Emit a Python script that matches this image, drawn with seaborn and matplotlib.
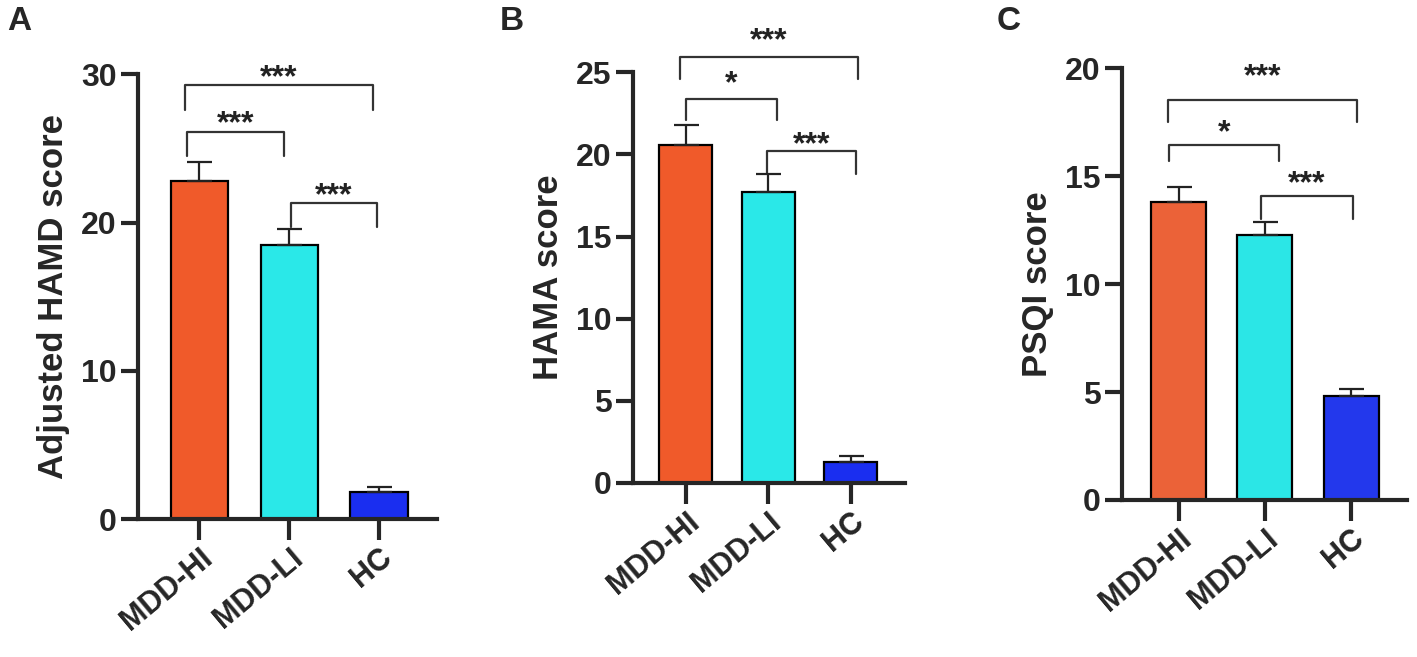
import matplotlib
matplotlib.use("Agg")
import matplotlib.pyplot as plt
import seaborn as sns
import numpy as np
import pandas as pd

groups = ['MDD-HI', 'MDD-LI', 'HC']
hamd_mean = [22.8, 18.5, 1.8]
hamd_sem = [1.3, 1.05, 0.35]
hama_mean = [20.6, 17.7, 1.3]
hama_sem = [1.2, 1.1, 0.35]
psqi_mean = [13.8, 12.3, 4.8]
psqi_sem = [0.7, 0.6, 0.33]

# significance brackets: x1, x2, bar height, leg end, label, text y
hamd_sig = [(-0.16, 1.93, 29.3, 27.6, '***', 29.75),
            (-0.14, 0.94, 26.1, 24.5, '***', 26.65),
            (1.02, 1.97, 21.3, 19.7, '***', 21.75)]
hama_sig = [(-0.07, 2.09, 25.95, 24.6, '***', 26.9),
            (0.0, 1.11, 23.4, 22.1, '*', 24.3),
            (0.98, 2.07, 20.2, 18.8, '***', 20.55)]
psqi_sig = [(-0.12, 2.07, 18.55, 17.5, '***', 19.6),
            (-0.11, 1.16, 16.45, 15.7, '*', 17.0),
            (0.96, 2.02, 14.1, 13.0, '***', 14.65)]

sns.set_style("ticks")
plt.rcParams['font.family'] = ['Liberation Sans', 'DejaVu Sans']
plt.rcParams['font.weight'] = 'bold'

palette_a = ['#F05A2A', '#2AE8E8', '#1A2EF0']
palette_c = ['#EB6238', '#2BE6E6', '#2338EC']

fig = plt.figure(figsize=(14.17, 6.57), dpi=100)
# [left, bottom, width, height] in figure fractions
boxes = [[0.0974, 0.210, 0.211, 0.677],
         [0.4467, 0.265, 0.192, 0.625],
         [0.7918, 0.239, 0.201, 0.657]]
panels = [
    ('A', hamd_mean, hamd_sem, hamd_sig, 'Adjusted HAMD score', 30, [0, 10, 20, 30], palette_a, (-0.684, 2.643)),
    ('B', hama_mean, hama_sem, hama_sig, 'HAMA score', 25, [0, 5, 10, 15, 20, 25], palette_a, (-0.64, 2.66)),
    ('C', psqi_mean, psqi_sem, psqi_sig, 'PSQI score', 20, [0, 5, 10, 15, 20], palette_c, (-0.656, 2.645)),
]
letter_x = [0.005, 0.353, 0.703]

for i, (letter, means, sems, sig, ylab, ymax, yticks, pal, xl) in enumerate(panels):
    ax = fig.add_axes(boxes[i])
    df = pd.DataFrame({'group': groups, 'score': means})
    sns.barplot(data=df, x='group', y='score', hue='group', palette=pal,
                width=0.64, edgecolor='black', linewidth=1.6, legend=False,
                errorbar=None, ax=ax, saturation=1)
    ax.errorbar(np.arange(len(groups)), means, yerr=[np.zeros(len(sems)), sems],
                fmt='none', ecolor='#222222', elinewidth=1.6, capsize=9,
                capthick=1.6, zorder=3)
    for x1, x2, yb, yl, lab, yt in sig:
        ax.plot([x1, x1, x2, x2], [yl, yb, yb, yl], color='#333333', lw=1.6,
                clip_on=False)
        ax.text((x1 + x2) / 2, yt, lab, ha='center', va='center',
                fontsize=23, fontweight='bold', color='#222222')
    ax.set_ylim(0, ymax)
    ax.set_xlim(*xl)
    ax.set_yticks(yticks)
    ax.set_xlabel('')
    ax.set_ylabel(ylab, fontsize=25, fontweight='bold', labelpad=8)
    sns.despine(ax=ax)
    for s in ['left', 'bottom']:
        ax.spines[s].set_linewidth(3)
    ax.tick_params(axis='y', width=3, length=12, labelsize=23)
    ax.tick_params(axis='x', width=3, length=15, labelsize=22, pad=2)
    ax.set_xticks(range(len(groups)))
    ax.set_xticklabels(groups, rotation=40, ha='right', rotation_mode='anchor',
                       fontweight='bold')
    for t in ax.get_yticklabels():
        t.set_fontweight('bold')
    fig.text(letter_x[i], 0.967, letter, fontsize=24, fontweight='bold',
             ha='left', va='center')

fig.savefig('out.png', dpi=100)
